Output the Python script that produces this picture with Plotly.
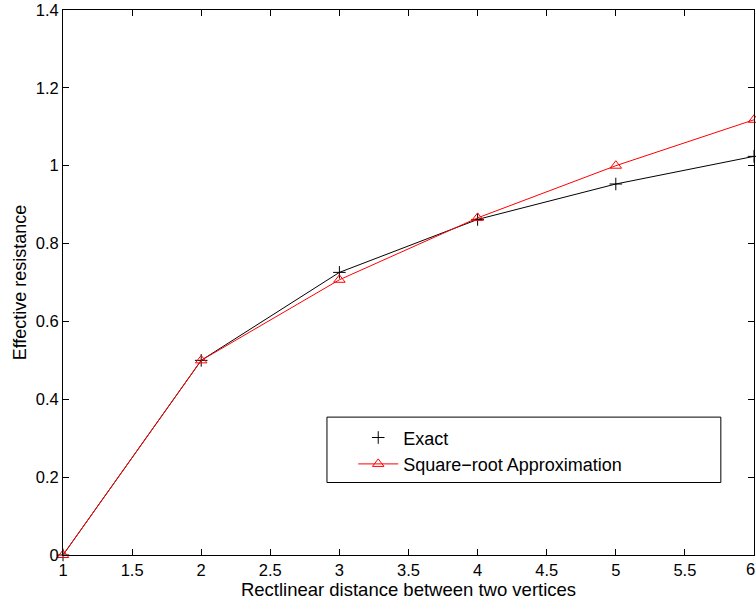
import plotly.graph_objects as go

distance = [1, 2, 3, 4, 5, 6]
exact = [0.0, 0.5, 0.726, 0.862, 0.953, 1.024]
sqrt_approx = [0.0, 0.5, 0.707, 0.866, 1.0, 1.118]

x_ticks = [1, 1.5, 2, 2.5, 3, 3.5, 4, 4.5, 5, 5.5, 6]
y_ticks = [0, 0.2, 0.4, 0.6, 0.8, 1.0, 1.2, 1.4]

FONT = "Liberation Sans, Arial, Helvetica"

fig = go.Figure()
fig.add_trace(go.Scatter(
    x=distance, y=exact, mode="lines+markers", showlegend=False,
    line=dict(color="black", width=1),
    marker=dict(symbol="cross-thin", size=9, line=dict(color="black", width=1)),
    cliponaxis=False,
))
fig.add_trace(go.Scatter(
    x=distance, y=sqrt_approx, mode="lines+markers", name="Square\u2212root Approximation",
    line=dict(color="red", width=1),
    marker=dict(symbol="triangle-up-open", size=10, color="red", line=dict(color="red", width=1)),
    cliponaxis=False,
))
# legend-only entry for Exact (marker only)
fig.add_trace(go.Scatter(
    x=[None], y=[None], mode="markers", name="Exact",
    marker=dict(symbol="cross-thin", size=9, line=dict(color="black", width=1)),
))

axis_common = dict(
    showline=True, linecolor="black", linewidth=1, mirror="ticks",
    ticks="inside", ticklen=6, tickcolor="black", tickwidth=1,
    showgrid=False, zeroline=False,
    tickfont=dict(family=FONT, size=16.5, color="black"),
)

fig.update_layout(
    width=756, height=605,
    margin=dict(l=63, r=2, t=10, b=50),
    paper_bgcolor="white", plot_bgcolor="white",
    font=dict(family=FONT, color="black"),
    xaxis=dict(range=[1, 6], tickvals=x_ticks[:-1], ticktext=[f"{v:g}" for v in x_ticks[:-1]],
               title=dict(text="Rectlinear distance between two vertices", font=dict(size=18.5), standoff=0),
               **axis_common),
    yaxis=dict(range=[0, 1.4], tickvals=y_ticks, ticktext=[f"{v:g}" for v in y_ticks],
               title=dict(text="Effective resistance", font=dict(size=18), standoff=4),
               **axis_common),
    legend=dict(
        x=0.42, y=0.249, xanchor="left", yanchor="top",
        borderwidth=0, bgcolor="rgba(0,0,0,0)",
        font=dict(size=18, family=FONT),
        traceorder="reversed", itemwidth=40, tracegroupgap=0,
    ),
    shapes=[dict(type="rect", xref="paper", yref="paper",
                 x0=0.382, x1=0.952, y0=0.133, y1=0.253,
                 line=dict(color="black", width=1), fillcolor="white", layer="below")],
    annotations=[dict(text=f"{x_ticks[-1]:g}", x=x_ticks[-1], y=0, xref="x", yref="paper",
                      yanchor="top", xanchor="right", xshift=3, yshift=-3, showarrow=False,
                      font=dict(family=FONT, size=16.5, color="black"))],
)

fig.write_html("out.html")
